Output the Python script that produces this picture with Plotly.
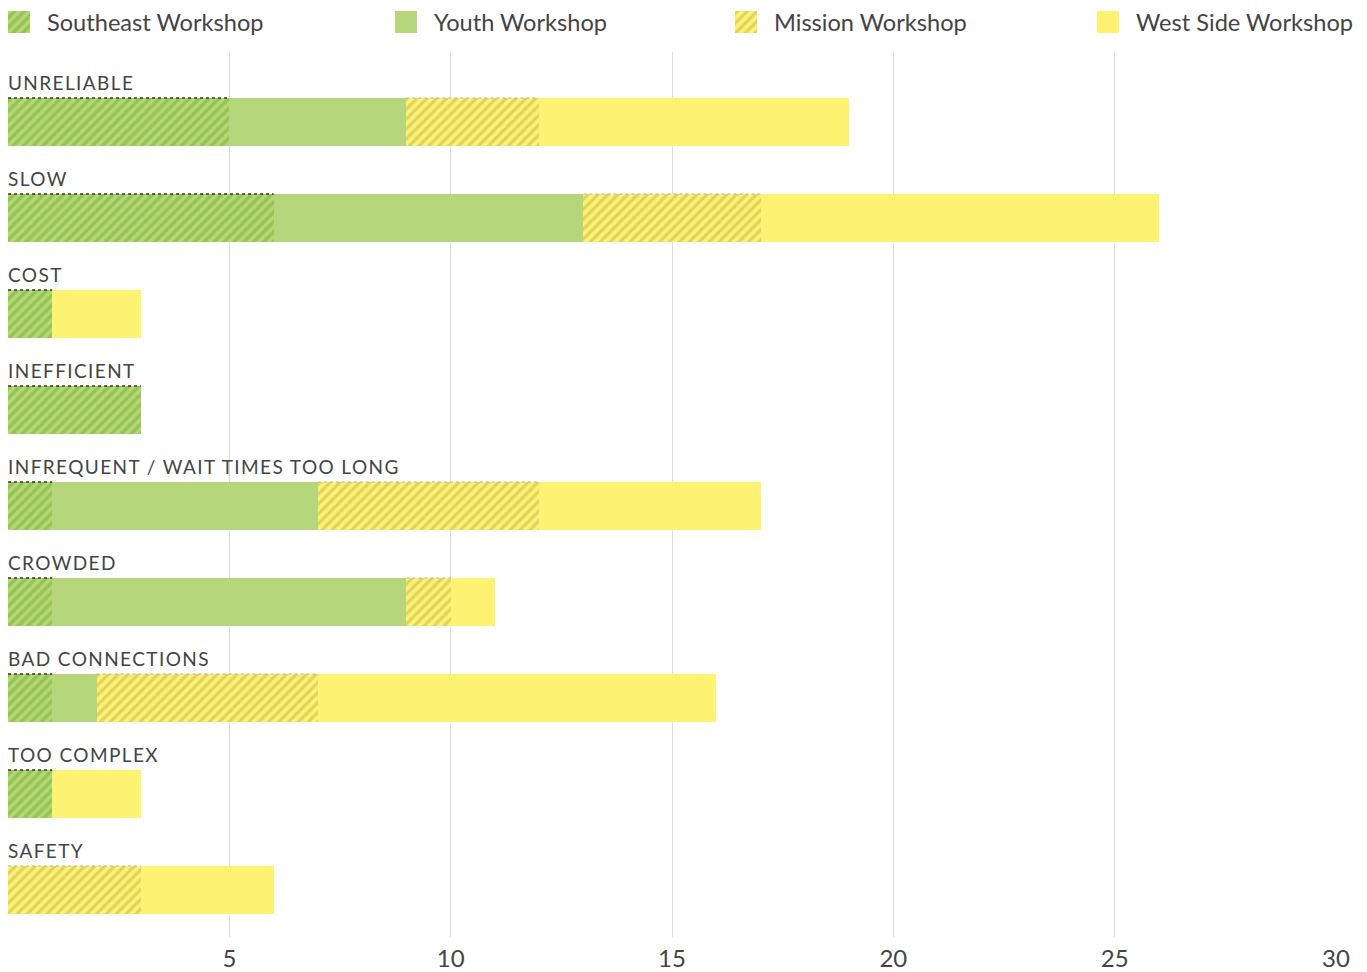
import plotly.graph_objects as go

categories = ["UNRELIABLE", "SLOW", "COST", "INEFFICIENT", "INFREQUENT / WAIT TIMES TOO LONG",
              "CROWDED", "BAD CONNECTIONS", "TOO COMPLEX", "SAFETY"]
southeast = [5, 6, 1, 3, 1, 1, 1, 1, 0]
youth = [4, 7, 0, 0, 6, 8, 1, 0, 0]
mission = [3, 4, 0, 0, 5, 1, 5, 0, 3]
west_side = [7, 9, 2, 0, 5, 1, 9, 2, 3]
series_names = ["Southeast Workshop", "Youth Workshop", "Mission Workshop", "West Side Workshop"]
x_ticks = [5, 10, 15, 20, 25, 30]

FONT = "Lato"
TXT = "#444444"
# page body adds an 8px offset; figure coordinates below are page coords minus 8
W, H = 1359, 964
ML, MR, MT, MB = 0, 31, 0, 35
PH = H - MT - MB            # 929
PLOT_TOP = 44               # px from figure top where the main plot starts
LEG_H = 28                  # px height of legend strip
SW = 22                     # legend swatch size

green = "#b5d67b"
green_dark = "#76b224"
yellow = "#fef272"
yellow_dark = "#c2b24c"

ypos = list(range(len(categories)))
BAR_W = 0.5

styles = [
    dict(color=green, pattern=dict(shape="/", fgcolor=green_dark, bgcolor=green, size=7, solidity=0.5)),
    dict(color=green),
    dict(color=yellow, pattern=dict(shape="/", fgcolor=yellow_dark, bgcolor=yellow, size=7, solidity=0.45)),
    dict(color=yellow),
]
data = [southeast, youth, mission, west_side]

fig = go.Figure()
for name, vals, st in zip(series_names, data, styles):
    fig.add_trace(go.Bar(
        y=ypos, x=vals, orientation="h", name=name, width=BAR_W,
        marker=dict(line=dict(width=0), **st), showlegend=False,
        hovertemplate=name + ": %{x}<extra></extra>",
    ))

# dotted top edge on Southeast segments, faint dashed top edge on Mission segments
for i in ypos:
    top = i - BAR_W / 2
    if southeast[i] > 0:
        fig.add_trace(go.Scatter(
            x=[0, southeast[i]], y=[top, top], mode="lines",
            line=dict(color="#333333", width=1.5, dash="dot"),
            showlegend=False, hoverinfo="skip",
        ))
    if mission[i] > 0:
        start = southeast[i] + youth[i]
        fig.add_trace(go.Scatter(
            x=[start, start + mission[i]], y=[top, top], mode="lines",
            line=dict(color="#b8b8a0", width=1, dash="3px,3px"),
            showlegend=False, hoverinfo="skip",
        ))

for i, c in enumerate(categories):
    fig.add_annotation(
        x=0, y=i - BAR_W / 2, xref="x", yref="y",
        text='<span style="letter-spacing:1.4px">' + c + '</span>', showarrow=False,
        xanchor="left", yanchor="bottom", yshift=2, xshift=-2,
        font=dict(family=FONT, size=19, color=TXT),
    )

# custom legend: swatches on an overlay axis in the top strip (axis units = pixels)
legend_px = [0, 387, 727, 1089]
for name, st, px in zip(series_names, styles, legend_px):
    fig.add_trace(go.Bar(
        y=[LEG_H / 2], x=[SW], base=[px], orientation="h", width=SW,
        marker=dict(line=dict(width=0), **st), xaxis="x2", yaxis="y2",
        showlegend=False, hoverinfo="skip",
    ))
    fig.add_annotation(
        x=px + 37, y=LEG_H / 2, xref="x2", yref="y2", text=name, showarrow=False,
        xanchor="left", yanchor="middle", font=dict(family=FONT, size=23.6, color=TXT),
    )

main_top = (PH - PLOT_TOP) / PH
fig.update_layout(
    width=W, height=H, barmode="stack",
    margin=dict(l=ML, r=MR, t=MT, b=MB, autoexpand=False),
    paper_bgcolor="white", plot_bgcolor="white",
    bargap=0, showlegend=False,
    xaxis=dict(range=[0, 30], tickvals=x_ticks, showgrid=True, gridcolor="#dcdcdc", gridwidth=1,
               zeroline=False, showline=False, ticks="", ticklabelstandoff=5, automargin=False,
               tickfont=dict(family=FONT, size=24, color=TXT)),
    yaxis=dict(domain=[0, main_top], range=[len(categories) - 1 + 0.49, -0.729],
               showticklabels=False, showgrid=False, zeroline=False, showline=False),
    xaxis2=dict(domain=[0, 1], range=[0, W - MR - ML], visible=False, fixedrange=True, anchor="y2"),
    yaxis2=dict(domain=[1 - LEG_H / PH, 1], range=[LEG_H, 0], visible=False, fixedrange=True, anchor="x2"),
)

fig.write_html("out.html")
